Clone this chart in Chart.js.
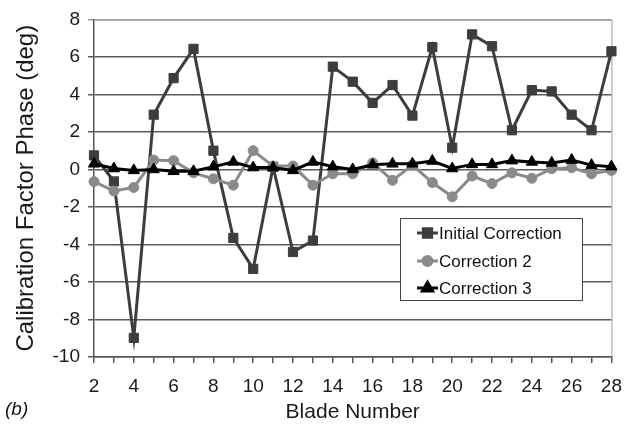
<!DOCTYPE html>
<html>
<head>
<meta charset="utf-8">
<script src="https://cdn.jsdelivr.net/npm/chart.js@4/dist/chart.umd.min.js"></script>
<style>
  html, body { margin: 0; padding: 0; background: #fff; }
  #wrap { width: 634px; height: 427px; position: relative; }
</style>
</head>
<body>
<div id="wrap"><canvas id="c" width="634" height="427"></canvas></div>
<script>
const blades = [2,3,4,5,6,7,8,9,10,11,12,13,14,15,16,17,18,19,20,21,22,23,24,25,26,27,28];
const initialCorrection = [0.75,-0.64,-8.98,2.92,4.87,6.43,1.0,-3.65,-5.3,0.14,-4.4,-3.79,5.48,4.68,3.55,4.5,2.87,6.52,1.16,7.2,6.57,2.09,4.23,4.16,2.92,2.09,6.3];
const correction2 = [-0.65,-1.15,-0.96,0.5,0.47,-0.18,-0.5,-0.84,1.0,0.18,0.18,-0.84,-0.23,-0.23,0.35,-0.58,0.23,-0.7,-1.46,-0.35,-0.75,-0.18,-0.47,0.04,0.09,-0.23,-0.05];
const correction3 = [0.3,0.05,-0.05,0.0,-0.1,-0.1,0.15,0.4,0.1,0.1,-0.05,0.4,0.15,0.0,0.25,0.3,0.3,0.45,0.05,0.27,0.27,0.47,0.4,0.35,0.5,0.23,0.15];
const yTicks = [-10,-8,-6,-4,-2,0,2,4,6,8];
const seriesNames = ['Initial Correction','Correction 2','Correction 3'];

const FONT = 'Liberation Sans, Arial, sans-serif';

const styles = [
  {color:'#3d3d3d', point:'rect', radius:6.5},
  {color:'#8a8a8a', point:'circle', radius:5},
  {color:'#000000', point:'triangle', radius:6.5}
];

const seriesData = [initialCorrection, correction2, correction3];

const datasets = seriesData.map((d,i)=>({
  label: seriesNames[i],
  data: d,
  borderColor: styles[i].color,
  backgroundColor: styles[i].color,
  borderWidth: 3,
  pointStyle: styles[i].point,
  pointRadius: styles[i].radius,
  pointBorderWidth: 1,
  pointBackgroundColor: styles[i].color,
  pointBorderColor: styles[i].color,
  tension: 0,
  order: 3 - i
}));

const extras = {
  id: 'extras',
  beforeDatasetsDraw(chart) {
    const {ctx, chartArea:a} = chart;
    ctx.save();
    ctx.strokeStyle = '#9a9a9a';
    ctx.lineWidth = 1;
    ctx.beginPath();
    ctx.moveTo(a.left, a.top + 0.5);
    ctx.lineTo(a.right + 0.5, a.top + 0.5);
    ctx.lineTo(a.right + 0.5, a.bottom);
    ctx.stroke();
    ctx.restore();
  },
  afterDraw(chart) {
    const {ctx} = chart;
    ctx.save();
    // legend box
    const bx = 400, by = 218, bw = 182, bh = 82;
    ctx.fillStyle = '#fff';
    ctx.fillRect(bx, by, bw, bh);
    ctx.strokeStyle = '#444';
    ctx.lineWidth = 1;
    ctx.strokeRect(bx + 0.5, by + 0.5, bw, bh);
    const rows = [233, 261, 288];
    ctx.font = '17px ' + FONT;
    ctx.textBaseline = 'middle';
    ctx.textAlign = 'left';
    chart.data.datasets.forEach((ds, i) => {
      const y = rows[i];
      ctx.strokeStyle = ds.borderColor;
      ctx.lineWidth = 3;
      ctx.beginPath();
      ctx.moveTo(417, y);
      ctx.lineTo(438, y);
      ctx.stroke();
      ctx.fillStyle = ds.borderColor;
      Chart.helpers.drawPoint(ctx, {pointStyle: ds.pointStyle, radius: ds.pointRadius * 0.9, borderWidth: 1}, 427.5, y);
      ctx.fill();
      ctx.fillStyle = '#111';
      ctx.fillText(ds.label, 439, y + 1);
    });
    // panel label
    ctx.font = 'italic 19px ' + FONT;
    ctx.fillStyle = '#111';
    ctx.textBaseline = 'middle';
    ctx.fillText('(b)', 5, 410);
    ctx.restore();
  }
};

new Chart(document.getElementById('c'), {
  type: 'line',
  data: { labels: blades, datasets },
  plugins: [extras],
  options: {
    responsive: false,
    animation: false,
    devicePixelRatio: 1,
    layout: { padding: { top: 12, right: 20, left: 0, bottom: 0 } },
    plugins: { legend: { display: false }, tooltip: { enabled: false } },
    scales: {
      x: {
        type: 'category',
        offset: false,
        afterFit(s) { s.height = 70; },
        border: { display: true, color: '#555', width: 1.5 },
        grid: { display: true, drawOnChartArea: false, offset: false, tickLength: 6, color: '#555', lineWidth: 1.5 },
        ticks: {
          autoSkip: false, maxRotation: 0, padding: 12, color: '#1a1a1a',
          font: { family: FONT, size: 19 },
          callback(v, i) { const b = blades[i]; return b % 2 === 0 ? String(b) : ''; }
        },
        title: { display: true, text: 'Blade Number', color: '#1a1a1a', font: { family: FONT, size: 21 }, padding: { top: 0, bottom: 2.5 } }
      },
      y: {
        min: -10, max: 8,
        afterFit(s) { s.width = 94; },
        afterBuildTicks(s) { s.ticks = yTicks.map(v => ({value: v})); },
        border: { display: true, color: '#555', width: 1.5 },
        grid: {
          tickLength: 6, lineWidth: 1.5,
          color(c) { return c.tick && c.tick.value === 8 ? '#9a9a9a' : '#5a5a5a'; }
        },
        ticks: { padding: 8, color: '#1a1a1a', font: { family: FONT, size: 19 } },
        title: { display: true, text: 'Calibration Factor Phase (deg)', color: '#1a1a1a', font: { family: FONT, size: 24 }, padding: { top: 11.5, bottom: 0 } }
      }
    }
  }
});
</script>
</body>
</html>
